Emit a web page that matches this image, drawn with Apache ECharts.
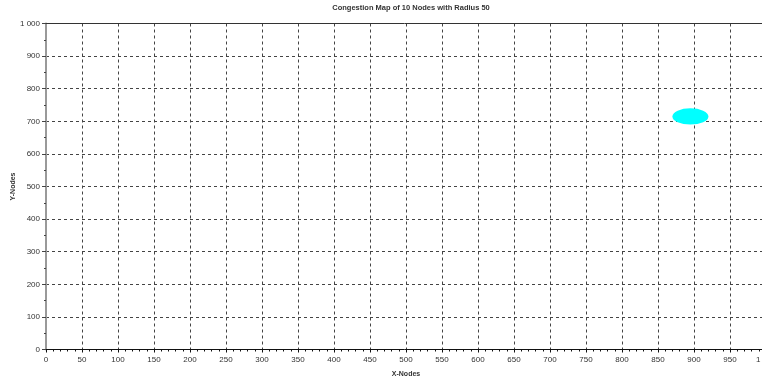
<!DOCTYPE html>
<html>
<head>
<meta charset="utf-8">
<script src="https://cdn.jsdelivr.net/npm/echarts@6/dist/echarts.min.js"></script>
<style>
  html, body { margin: 0; padding: 0; background: #fff; }
  #chart { width: 762px; height: 382px; }
</style>
</head>
<body>
<div id="chart"></div>
<script>
// Congested node positions (field coordinates) and their drawn radius
const nodeX = [895];
const nodeY = [715];
const nodeR = [25];

// Axis ranges and tick spacing
const xRange = [0, 1000];
const yRange = [0, 1000];
const xStep = 50;
const yStep = 100;

const titleText = 'Congestion Map of 10 Nodes with Radius 50';
const xName = 'X-Nodes';
const yName = 'Y-Nodes';

function fmt(v) {
  return String(v).replace(/\B(?=(\d{3})+(?!\d))/g, ' ');
}

const nodes = nodeX.map((x, i) => [x, nodeY[i], nodeR[i]]);

const font = 'Liberation Sans, Arial, sans-serif';
const gridLine = { show: true, lineStyle: { color: '#444', type: [3, 3], width: 1 } };

const chart = echarts.init(document.getElementById('chart'), null, { renderer: 'canvas' });
chart.setOption({
  animation: false,
  backgroundColor: '#fff',
  title: {
    text: titleText,
    left: 406, top: -1,
    textAlign: 'center',
    textStyle: { fontFamily: font, fontSize: 7.5, fontWeight: 'bold', color: '#333' }
  },
  grid: { left: 46, top: 23.5, width: 720, height: 326, outerBoundsMode: 'none', containLabel: false },
  xAxis: {
    type: 'value', min: xRange[0], max: xRange[1], interval: xStep,
    name: xName, nameLocation: 'middle', nameGap: 21, nameMoveOverlap: false,
    nameTextStyle: { fontFamily: font, fontSize: 7, color: '#333', fontWeight: 'bold' },
    axisLine: { show: true, onZero: false, lineStyle: { color: '#111', width: 1 } },
    axisTick: { show: true, inside: false, length: 3, lineStyle: { color: '#111' } },
    minorTick: { show: true, splitNumber: 5, length: 2, lineStyle: { color: '#111' } },
    axisLabel: { fontFamily: font, fontSize: 8, color: '#333', margin: 6, formatter: fmt, showMaxLabel: true },
    splitLine: gridLine
  },
  yAxis: {
    type: 'value', min: yRange[0], max: yRange[1], interval: yStep,
    name: yName, nameLocation: 'middle', nameGap: 29, nameRotate: 90, nameMoveOverlap: false,
    nameTextStyle: { fontFamily: font, fontSize: 7, color: '#333', fontWeight: 'bold' },
    axisLine: { show: true, onZero: false, lineStyle: { color: '#999', width: 2 } },
    axisTick: { show: true, inside: false, length: 4, lineStyle: { color: '#444' } },
    minorTick: { show: true, splitNumber: 2, length: 2, lineStyle: { color: '#444' } },
    axisLabel: { fontFamily: font, fontSize: 8, color: '#333', margin: 6, formatter: fmt },
    splitLine: gridLine
  },
  series: [
    {
      // top frame line
      type: 'line',
      data: [[xRange[0], yRange[1]], [xRange[1], yRange[1]]],
      symbol: 'none', silent: true,
      lineStyle: { color: '#333', width: 1 }
    },
    {
      type: 'custom',
      data: nodes,
      renderItem: function (params, api) {
        const c = api.coord([api.value(0), api.value(1)]);
        const s = api.size([api.value(2), api.value(2)]);
        const rx = s[0], ry = s[1];
        return {
          type: 'circle',
          x: c[0], y: c[1],
          scaleY: ry / rx,
          shape: { cx: 0, cy: 0, r: rx },
          style: { fill: '#00ffff' }
        };
      }
    }
  ]
});
</script>
</body>
</html>
